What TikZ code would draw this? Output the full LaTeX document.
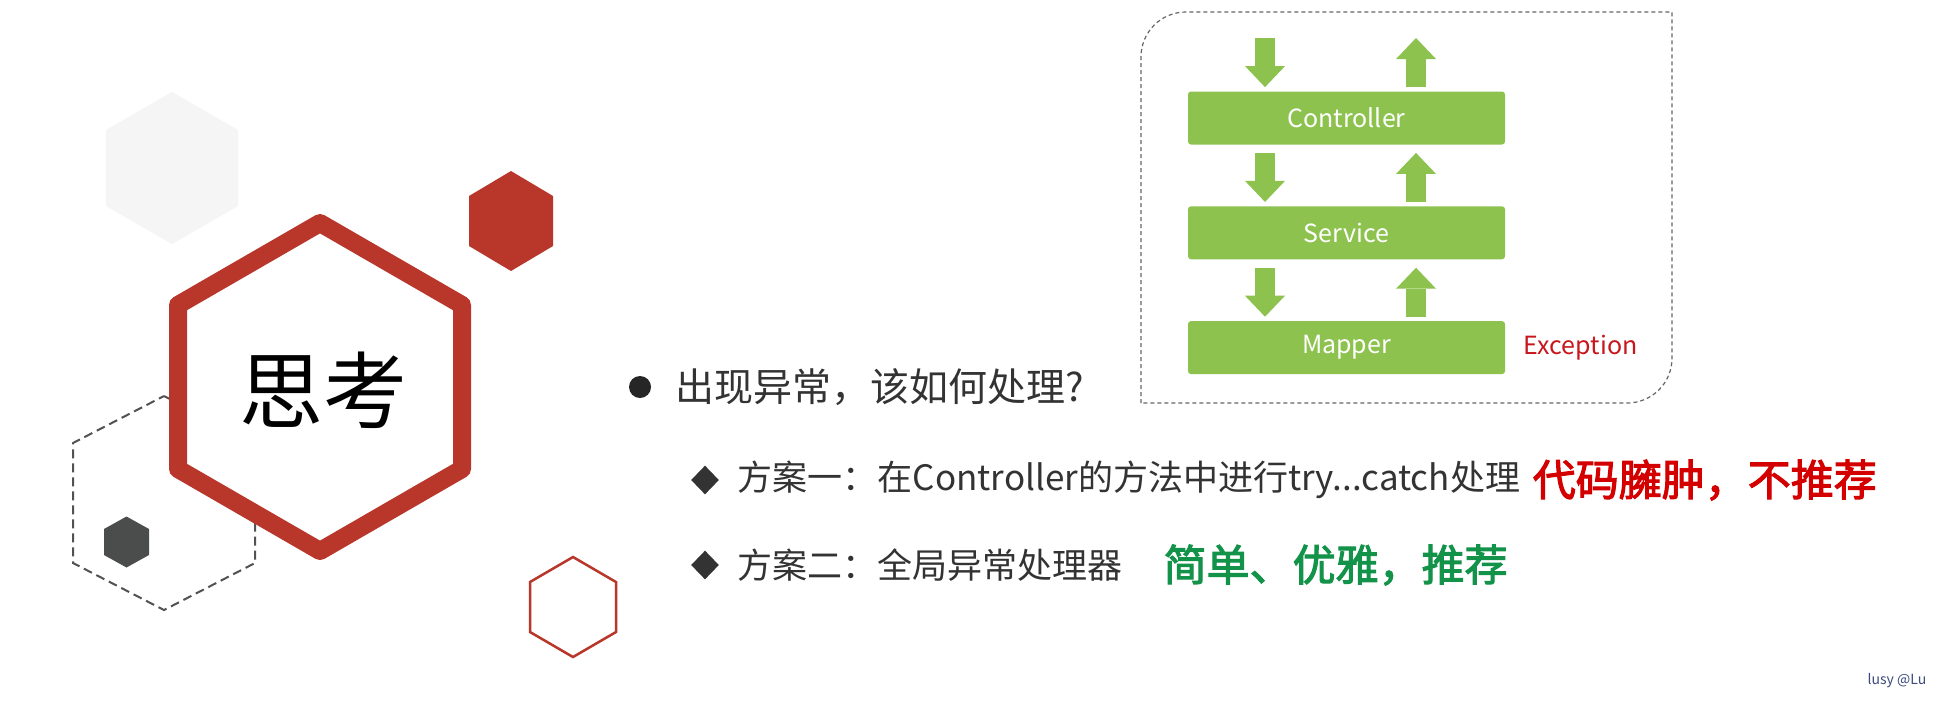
\documentclass[tikz,border=0pt]{standalone}
\usepackage{fontspec}
\setmainfont{Noto Sans CJK SC}
\newfontfamily\brushfont[FakeBold=2.5]{Noto Sans CJK SC}
\usepackage{xcolor}
\definecolor{HexRed}{HTML}{B8362A}
\definecolor{LayerGreen}{HTML}{8DC24F}
\definecolor{InkGray}{HTML}{333333}
\definecolor{DashGray}{HTML}{666666}
\definecolor{PaleGray}{HTML}{F5F5F5}
\definecolor{DarkHex}{HTML}{4B4D4C}
\definecolor{ExcRed}{HTML}{C8161D}
\definecolor{NoteRed}{HTML}{D40000}
\definecolor{NoteGreen}{HTML}{13934A}
\definecolor{MarkBlue}{HTML}{3C4B7C}
\usepackage{tikz}
\usetikzlibrary{arrows.meta,positioning,shapes.geometric}

% hexagon with a vertex on top: style, x, y, half width, half height, half side
\newcommand{\hexcell}[6]{\path[#1] (#2,#3) +(0,-#5) -- +(#4,-#6) -- +(#4,#6)
  -- +(0,#5) -- +(-#4,#6) -- +(-#4,-#6) -- cycle;}

\begin{document}
\begin{tikzpicture}[x=0.5pt,y=-0.5pt,
  layer/.style={fill=LayerGreen,rounded corners=1.5pt,minimum width=158.5pt,
                minimum height=26.5pt,text=white,font=\fontsize{12.5}{14}\selectfont},
  flow/.style={draw=LayerGreen,line width=9.75pt,
               -{Triangle[width=20pt,length=10.5pt,line width=0pt]}},
  panel/.style={draw=DashGray,line width=0.6pt,dash pattern=on 2pt off 1.5pt},
  dotmark/.style={circle,fill=black!85,minimum size=11pt,inner sep=0pt},
  diamark/.style={diamond,fill=InkGray,minimum width=14pt,minimum height=14.5pt,inner sep=0pt},
  qtext/.style={inner sep=0pt,text=InkGray,font=\fontsize{19.5}{22}\selectfont},
  ltext/.style={inner sep=0pt,text=InkGray,font=\fontsize{17.5}{20}\selectfont},
  notetext/.style={inner sep=0pt,font=\brushfont\fontsize{21.5}{24}\selectfont}]
\useasboundingbox[fill=white] (0,0) rectangle (1946,709);

% hexagons on the left
\hexcell{fill=PaleGray}{172}{168}{66}{76}{38}
\hexcell{draw=black!68,line width=1pt,dash pattern=on 4.5pt off 2.5pt}{164}{503}{91}{107}{60}
\hexcell{fill=DarkHex}{126.5}{542}{22.5}{25.5}{13}
\hexcell{draw=HexRed,fill=white,line width=9pt,line join=round}{320}{387}{142}{164}{82}
\hexcell{fill=HexRed}{511}{221}{42}{50}{25}
\hexcell{draw=HexRed,line width=1.25pt}{573}{607}{43}{50}{25}
\node[font=\fontsize{42}{46}\selectfont] (title) at (323,390) {思考};

% layers
\draw[panel] (1141,403) -- (1141,57) .. controls (1141,32) and (1161,12) .. (1186,12)
  -- (1672,12) -- (1672,358) .. controls (1672,383) and (1652,403) .. (1627,403) -- cycle;
\node[layer] (ctrl) at (1346.5,118) {Controller};
\node[layer,below=30.5pt of ctrl] (svc) {Service};
\node[layer,below=30.5pt of svc] (map) {Mapper};
\node[right=9pt of map,inner sep=0pt,text=ExcRed,font=\fontsize{12.5}{14}\selectfont] (exc) {Exception};

\coordinate (dx) at (1265,0);
\coordinate (ux) at (1416,0);
\coordinate (inflow) at (1265,38);
\coordinate (outflow) at (1416,38);
\draw[flow,shorten >=2pt] (inflow) -- (ctrl.north -| dx);
\draw[flow,shorten <=2pt] (ctrl.north -| ux) -- (outflow);
\draw[flow,shorten <=4pt,shorten >=2pt] (ctrl.south -| dx) -- (svc.north -| dx);
\draw[flow,shorten <=2pt,shorten >=4pt] (svc.north -| ux) -- (ctrl.south -| ux);
\draw[flow,shorten <=4pt,shorten >=2pt] (svc.south -| dx) -- (map.north -| dx);
\draw[flow,shorten <=2pt,shorten >=4pt] (map.north -| ux) -- (svc.south -| ux);

% question and answers
\node[dotmark] (q0) at (640,387) {};
\node[qtext,right=12pt of q0] (q) {出现异常，该如何处理?};
\node[diamark] (d1) at (705,480) {};
\node[ltext,right=9pt of d1] (s1) {方案一：在Controller的方法中进行try...catch处理};
\node[notetext,text=NoteRed,right=6pt of s1] (n1) {代码臃肿，不推荐};
\node[diamark] (d2) at (705,565) {};
\node[ltext,right=9pt of d2] (s2) {方案二：全局异常处理器};
\node[notetext,text=NoteGreen,right=20pt of s2] (n2) {简单、优雅，推荐};

\node[text=MarkBlue,font=\fontsize{7}{8}\selectfont] (mark) at (1897,681) {lusy @Lu};
\end{tikzpicture}
\end{document}
